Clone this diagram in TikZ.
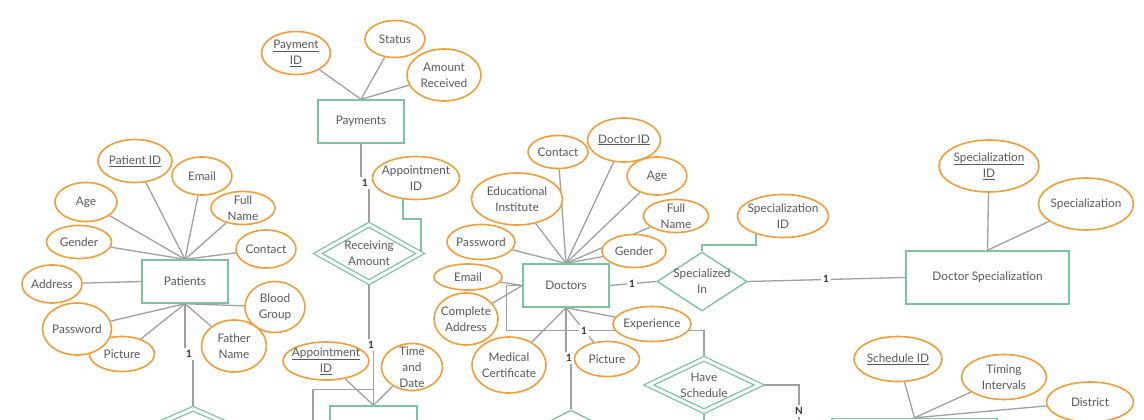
\documentclass[tikz,border=0pt]{standalone}
\usepackage{fontspec}
\setmainfont{Lato}
\usetikzlibrary{shapes.geometric}
\pgfdeclarelayer{bg}
\pgfsetlayers{bg,main}
\definecolor{egreen}{RGB}{124,195,162}
\definecolor{eorange}{RGB}{240,157,60}
\definecolor{lgray}{RGB}{160,160,160}
\definecolor{tgray}{RGB}{90,90,90}
\definecolor{ldark}{RGB}{50,50,50}
\tikzset{
 txt/.style={text=tgray, font=\fontsize{11.8}{16.2}\selectfont, align=center, inner sep=0pt},
 attr/.style={ellipse, draw=eorange, line width=1.6pt, fill=white, inner sep=0pt},
 ent/.style={rectangle, draw=egreen, line width=1.4pt, fill=white, inner sep=0pt},
 rel/.style={diamond, draw=egreen, line width=1.4pt, fill=white, inner sep=0pt},
 wrel/.style={diamond, draw=egreen, line width=1.3pt, double=white, double distance=3pt, fill=white, inner sep=0pt},
 conn/.style={draw=lgray, line width=1.3pt},
 gconn/.style={draw=egreen, line width=1.4pt},
 card/.style={fill=white, text=ldark, font=\fontsize{10}{11}\selectfont\bfseries, inner sep=2.5pt},
}
\begin{document}
\begin{tikzpicture}[x=1pt,y=-1pt]
\useasboundingbox (0,0) rectangle (1144,420);
% ---------- entities ----------
\node[ent, minimum width=86, minimum height=43, label={[txt]center:Patients}] (pat) at (185,281.5) {};
\node[ent, minimum width=86, minimum height=43, label={[txt]center:Payments}] (pay) at (361,121.5) {};
\node[ent, minimum width=86, minimum height=43, label={[txt]center:Doctors}] (doc) at (566,285.5) {};
\node[ent, minimum width=163, minimum height=53, label={[txt]center:Doctor Specialization}] (ds) at (987.5,277.5) {};
\node[ent, minimum width=87, minimum height=43] (apt) at (373.5,427.5) {};
\node[ent, minimum width=165, minimum height=53] (sch) at (914.5,445) {};
% ---------- relationships ----------
\node[wrel, minimum width=103, minimum height=58, label={[txt]center:Receiving\\Amount}] (ra) at (369,253.5) {};
\node[rel, minimum width=90, minimum height=59, label={[txt]center:Specialized\\In}] (si) at (702,281.5) {};
\node[wrel, minimum width=111, minimum height=53, label={[txt]center:Have\\Schedule}] (hs) at (704,385) {};
\node[wrel, minimum width=130, minimum height=57] (bd) at (193,437) {};
\node[rel, minimum width=100, minimum height=52] (dd) at (571,436) {};
% ---------- patient attributes ----------
\node[attr, minimum width=74, minimum height=43, label={[txt]center:\underline{Patient ID}}] (pid) at (135,161) {};
\node[attr, minimum width=60, minimum height=38, label={[txt]center:Email}] (pemail) at (202,176) {};
\node[attr, minimum width=64, minimum height=33, label={[txt]center:Full\\Name}] (pfull) at (243,208) {};
\node[attr, minimum width=62, minimum height=39, label={[txt]center:Age}] (page) at (86,202) {};
\node[attr, minimum width=65, minimum height=33, label={[txt]center:Gender}] (pgender) at (79,242) {};
\node[attr, minimum width=60, minimum height=38, label={[txt]center:Contact}] (pcontact) at (266,249) {};
\node[attr, minimum width=60, minimum height=38, label={[txt]center:Address}] (paddr) at (52,284) {};
\node[attr, minimum width=60, minimum height=51, label={[txt]center:Blood\\Group}] (pblood) at (275,307) {};
\node[attr, minimum width=65, minimum height=35, label={[txt]center:Picture}] (ppic) at (122,354) {};
\node[attr, minimum width=69, minimum height=52, label={[txt]center:Password}] (ppass) at (77,329) {};
\node[attr, minimum width=65, minimum height=52, label={[txt]center:Father\\Name}] (pfather) at (234,346) {};
% ---------- payment attributes ----------
\node[attr, minimum width=69, minimum height=43, label={[txt]center:\underline{Payment}\\\underline{ID}}] (pyid) at (296,53) {};
\node[attr, minimum width=60, minimum height=37, label={[txt]center:Status}] (pystatus) at (395,39) {};
\node[attr, minimum width=74, minimum height=52, label={[txt]center:Amount\\Received}] (pyamt) at (444,75) {};
\node[attr, minimum width=87, minimum height=43, label={[txt]center:Appointment\\ID}] (raid) at (416,178) {};
% ---------- appointment attributes ----------
\node[attr, minimum width=86, minimum height=38, label={[txt]center:\underline{Appointment}\\\underline{ID}}] (aid) at (326,361) {};
\node[attr, minimum width=61, minimum height=47, label={[txt]center:Time\\and\\Date}] (atime) at (412,367) {};
% ---------- doctor attributes ----------
\node[attr, minimum width=60, minimum height=33, label={[txt]center:Contact}] (dcontact) at (558,152) {};
\node[attr, minimum width=60, minimum height=38, label={[txt]center:Age}] (dage) at (657,176) {};
\node[attr, minimum width=73, minimum height=44, label={[txt]center:\underline{Doctor ID}}] (did) at (624,140) {};
\node[attr, minimum width=91, minimum height=52, label={[txt]center:Educational\\Institute}] (dedu) at (517,199) {};
\node[attr, minimum width=65, minimum height=33, label={[txt]center:Full\\Name}] (dfull) at (676,216) {};
\node[attr, minimum width=68, minimum height=35, label={[txt]center:Password}] (dpass) at (481,242) {};
\node[attr, minimum width=64, minimum height=33, label={[txt]center:Gender}] (dgender) at (634,251) {};
\node[attr, minimum width=68, minimum height=26, label={[txt]center:Email}] (demail) at (468,277) {};
\node[attr, minimum width=64, minimum height=52, label={[txt]center:Complete\\Address}] (daddr) at (466,319) {};
\node[attr, minimum width=78, minimum height=35, label={[txt]center:Experience}] (dexp) at (652,324) {};
\node[attr, minimum width=74, minimum height=56, label={[txt]center:Medical\\Certificate}] (dmed) at (509,365) {};
\node[attr, minimum width=65, minimum height=35, label={[txt]center:Picture}] (dpic) at (607,359) {};
% ---------- specialization attributes ----------
\node[attr, minimum width=91, minimum height=43, label={[txt]center:Specialization\\ID}] (siid) at (783,216) {};
\node[attr, minimum width=100, minimum height=52, label={[txt]center:\underline{Specialization}\\\underline{ID}}] (dsid) at (989,166) {};
\node[attr, minimum width=95, minimum height=52, label={[txt]center:Specialization}] (dsspec) at (1086,204) {};
% ---------- schedule attributes ----------
\node[attr, minimum width=88, minimum height=45, label={[txt]center:\underline{Schedule ID}}] (sid) at (898,359) {};
\node[attr, minimum width=85, minimum height=45, label={[txt]center:Timing\\Intervals}] (stime) at (1004,377) {};
\node[attr, minimum width=87, minimum height=40, label={[txt]center:District}] (sdist) at (1090,402) {};
% ---------- free ends ----------
\coordinate (aptin) at (313,440);
\coordinate (hsout) at (799,440);
\coordinate (hsdown) at (704,440);
% ---------- cardinalities ----------
\node[card] (c1) at (189,354) {1};
\node[card] (c2) at (365,183) {1};
\node[card] (c3) at (371,345) {1};
\node[card] (c4) at (569,358) {1};
\node[card] (c5) at (632,284) {1};
\node[card] (c6) at (826,279) {1};
\node[card] (c7) at (584,331) {1};
\node[card] (c8) at (799,411) {N};
% ---------- connectors ----------
\begin{pgfonlayer}{bg}
\foreach \a in {pid,pemail,pfull,page,pgender,pcontact} \draw[conn] (pat.north) -- (\a);
\draw[conn] (paddr) -- (pat.west);
\foreach \a in {ppass,ppic,pblood,pfather} \draw[conn] (pat.south) -- (\a);
\draw[conn] (pat.south) -- (185,354) -- (193,354) -- (bd.north);
\foreach \a in {pyid,pystatus,pyamt} \draw[conn] (pay.north) -- (\a);
\draw[conn] (pay.south) -- (361,183) -- (369,183) -- (ra.north);
\draw[gconn] ([xshift=-13pt]raid.center) -- ++(0,41) -| (ra.east);
\draw[conn] (ra.south) -- (369,345) -- (373.5,345) -- (apt.north);
\draw[conn] (aptin) |- ([yshift=16pt]apt.north);
\foreach \a in {aid,atime} \draw[conn] (apt.north) -- (\a);
\foreach \a in {dcontact,did,dage,dedu,dfull,dpass,dgender} \draw[conn] (doc.north) -- (\a);
\foreach \a in {demail,daddr} \draw[conn] (doc.west) -- (\a);
\foreach \a in {dexp,dmed,dpic} \draw[conn] (doc.south) -- (\a);
\draw[conn] (doc.south) -- (566,358) -- (571,358) -- (dd.north);
\draw[conn] (doc.west) -- ++(-16,0) -- ++(0,45) -| (hs.north);
\draw[conn] (doc.east) -- (si.west);
\draw[gconn] ([xshift=-27pt]siid.center) -- ++(0,29) -| (si.north);
\draw[conn] (si.east) -- (ds.west);
\foreach \a in {dsid,dsspec} \draw[conn] (ds.north) -- (\a);
\draw[conn] (hs.east) -| (hsout);
\draw[gconn] (hs.south) -- (hsdown);
\foreach \a in {sid,stime,sdist} \draw[conn] (sch.north) -- (\a);
\end{pgfonlayer}
\end{tikzpicture}
\end{document}
